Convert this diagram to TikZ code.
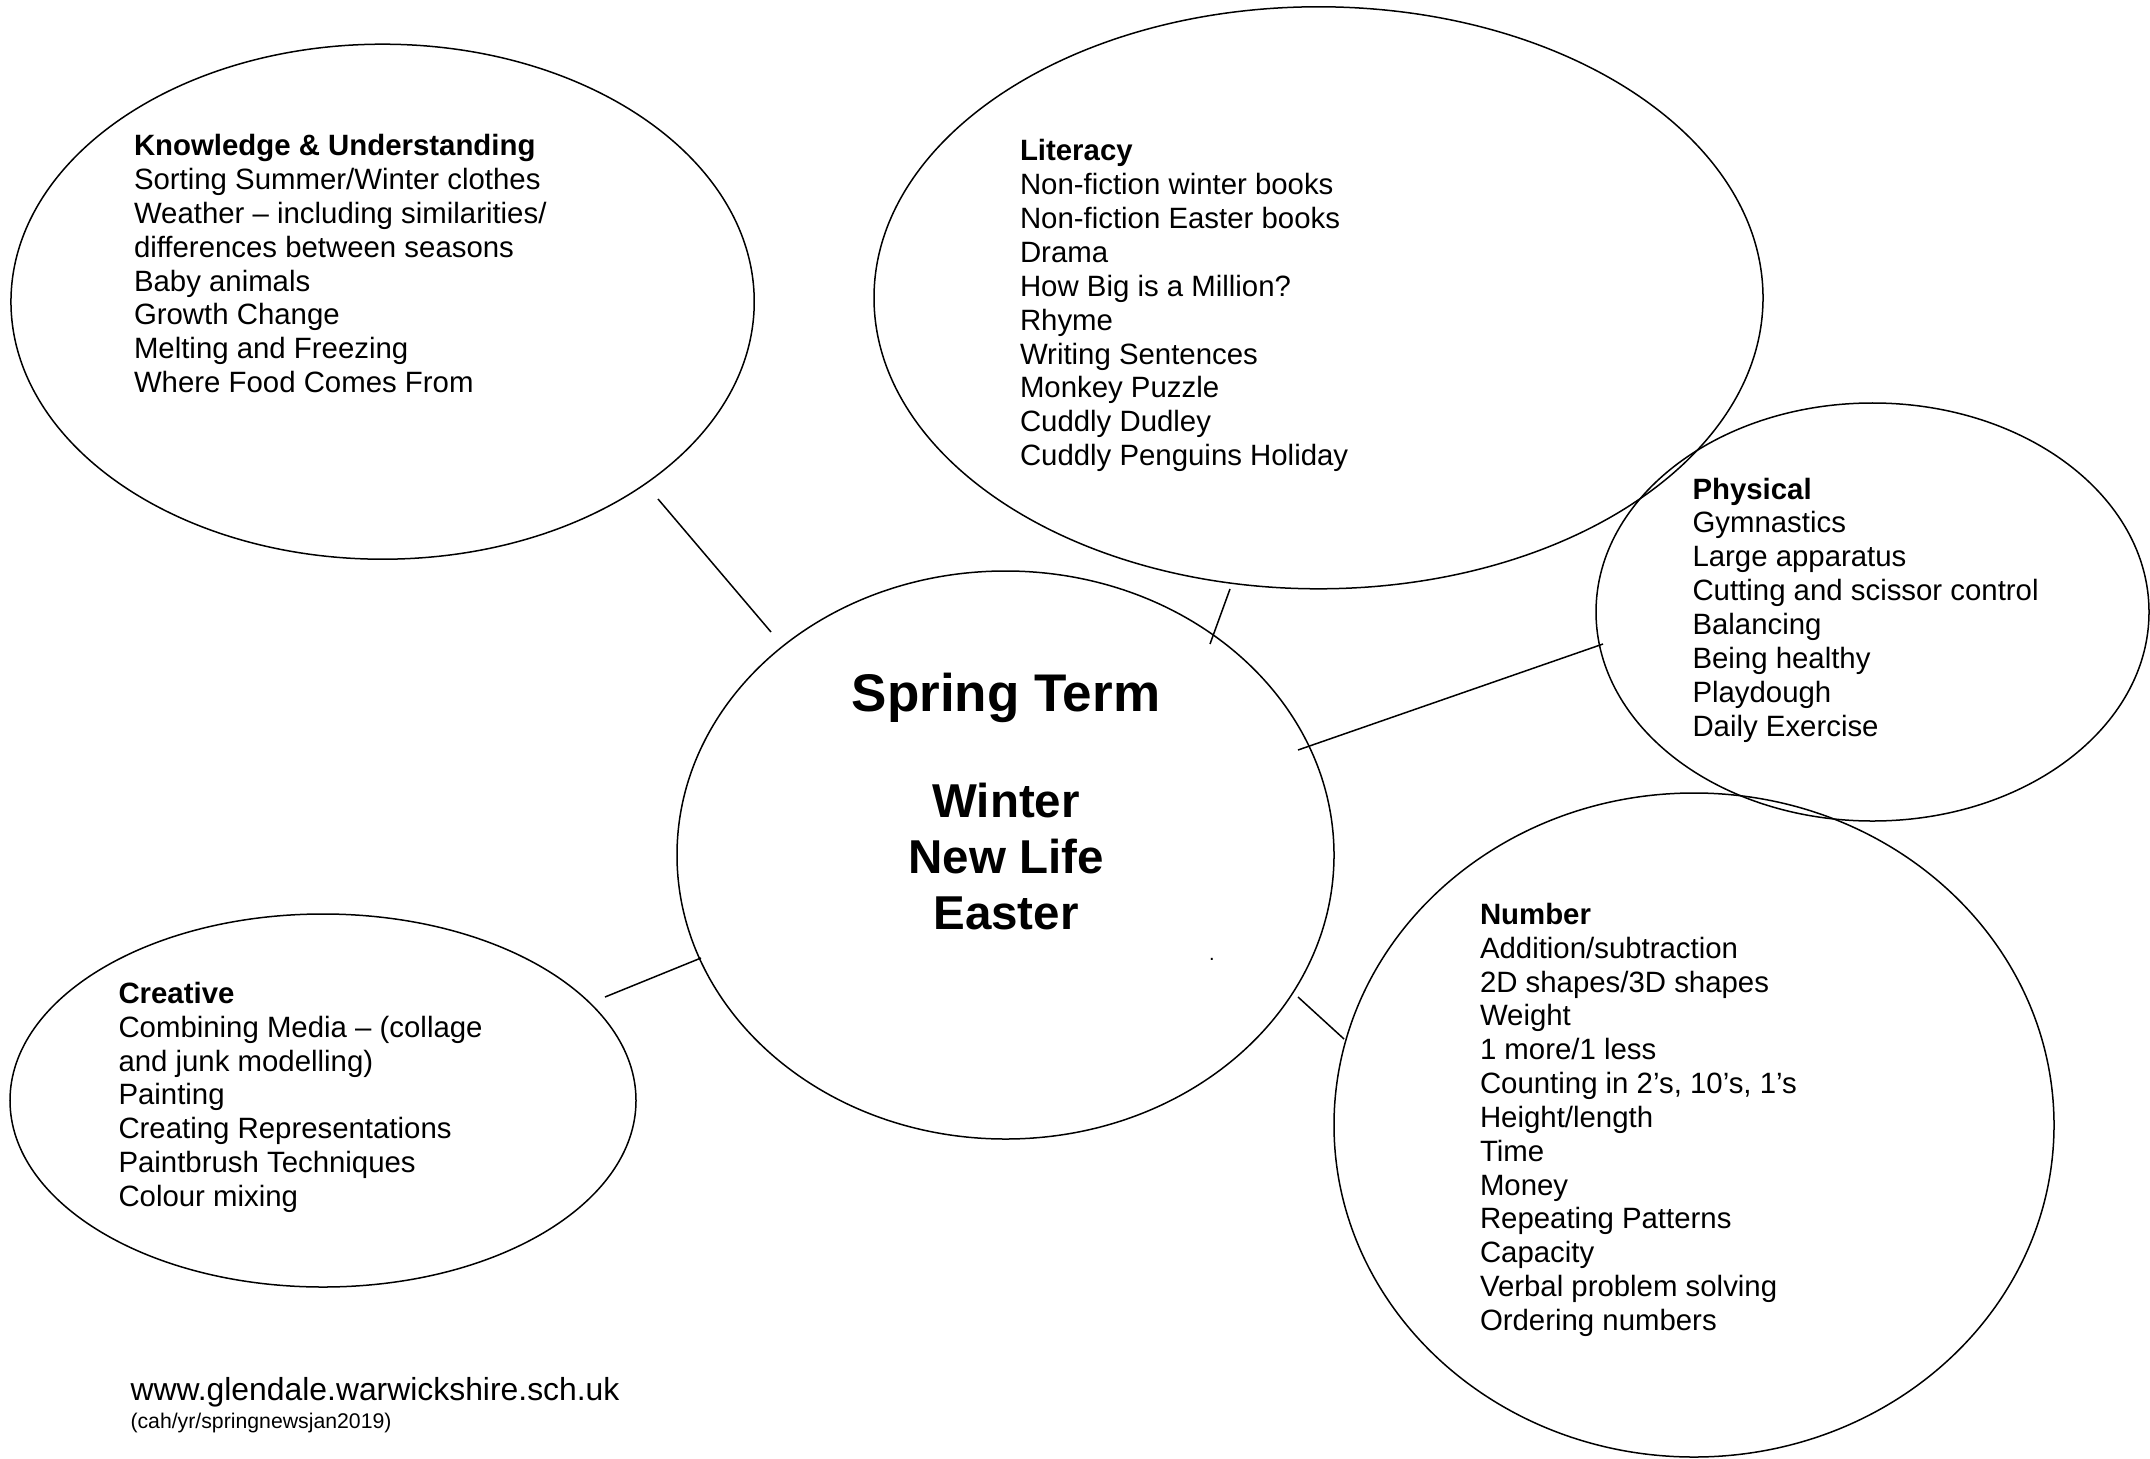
\documentclass[tikz,border=0pt]{standalone}
\usepackage{fontspec}
\setmainfont{Liberation Sans}
\usetikzlibrary{shapes.geometric}
\begin{document}
\begin{tikzpicture}[x=0.4pt,y=-0.4pt,
  bubble/.style={draw=black,line width=0.6pt,ellipse,inner sep=0pt,outer sep=0pt},
  link/.style={draw=black,line width=0.6pt},
  txt/.style={anchor=base west,align=left,inner sep=0pt,font=\fontsize{11.75}{13.54}\selectfont},
  hub/.style={anchor=base,align=center,inner sep=0pt,font=\fontsize{19}{22.34}\selectfont\bfseries}]
\useasboundingbox (0,0) rectangle (2150,1458);
% ellipses
\node[bubble,minimum width=297.3pt,minimum height=206pt] (ku) at (382.6,301.7) {};
\node[bubble,minimum width=355.6pt,minimum height=232.8pt] (lit) at (1318.5,297.8) {};
\node[bubble,minimum width=262.8pt,minimum height=227.2pt] (centre) at (1005.5,855) {};
\node[bubble,minimum width=221.2pt,minimum height=167.2pt] (phys) at (1872.5,612) {};
\node[bubble,minimum width=288pt,minimum height=265.6pt] (num) at (1694,1125) {};
\node[bubble,minimum width=250.4pt,minimum height=149.2pt] (cre) at (323,1100.5) {};
% connector ends
\coordinate (ku1) at (658,499);   \coordinate (ku2) at (771,632);
\coordinate (li1) at (1230,589);  \coordinate (li2) at (1210,644);
\coordinate (ph1) at (1603,644);  \coordinate (ph2) at (1298,750);
\coordinate (cr1) at (605,997);   \coordinate (cr2) at (701,958);
\coordinate (nu1) at (1298,997);  \coordinate (nu2) at (1344,1039);
\draw[link] (ku1) -- (ku2);
\draw[link] (li1) -- (li2);
\draw[link] (ph1) -- (ph2);
\draw[link] (cr1) -- (cr2);
\draw[link] (nu1) -- (nu2);
% texts (anchored at the baseline of the last line)
\node[txt] (kutext) at (133.5,392.6) {\textbf{Knowledge \& Understanding}\\
Sorting Summer/Winter clothes\\
Weather – including similarities/\\
differences between seasons\\
Baby animals\\
Growth Change\\
Melting and Freezing\\
Where Food Comes From};
\node[txt] (littext) at (1019.5,465.6) {\textbf{Literacy}\\
Non-fiction winter books\\
Non-fiction Easter books\\
Drama\\
How Big is a Million?\\
Rhyme\\
Writing Sentences\\
Monkey Puzzle\\
Cuddly Dudley\\
Cuddly Penguins Holiday};
\node[txt] (phystext) at (1692,736) {\textbf{Physical}\\
Gymnastics\\
Large apparatus\\
Cutting and scissor control\\
Balancing\\
Being healthy\\
Playdough\\
Daily Exercise};
\node[txt] (numtext) at (1479.5,1330.5) {\textbf{Number}\\
Addition/subtraction\\
2D shapes/3D shapes\\
Weight\\
1 more/1 less\\
Counting in 2’s, 10’s, 1’s\\
Height/length\\
Time\\
Money\\
Repeating Patterns\\
Capacity\\
Verbal problem solving\\
Ordering numbers};
\node[txt] (cretext) at (118,1206.4) {\textbf{Creative}\\
Combining Media – (collage\\
and junk modelling)\\
Painting\\
Creating Representations\\
Paintbrush Techniques\\
Colour mixing};
\node[hub,font=\fontsize{21.2}{25}\selectfont\bfseries] (title) at (1006,711) {Spring Term};
\node[hub] (themes) at (1006,929) {Winter\\New Life\\Easter};
\node[anchor=base,inner sep=0pt,font=\fontsize{8}{9}\selectfont] (dot) at (1212,960) {.};
\node[txt,font=\fontsize{12.75}{14}\selectfont] (web) at (130,1400.8) {www.glendale.warwickshire.sch.uk};
\node[txt,font=\fontsize{8.5}{10}\selectfont] (ref) at (130,1428.7) {(cah/yr/springnewsjan2019)};
\end{tikzpicture}
\end{document}
